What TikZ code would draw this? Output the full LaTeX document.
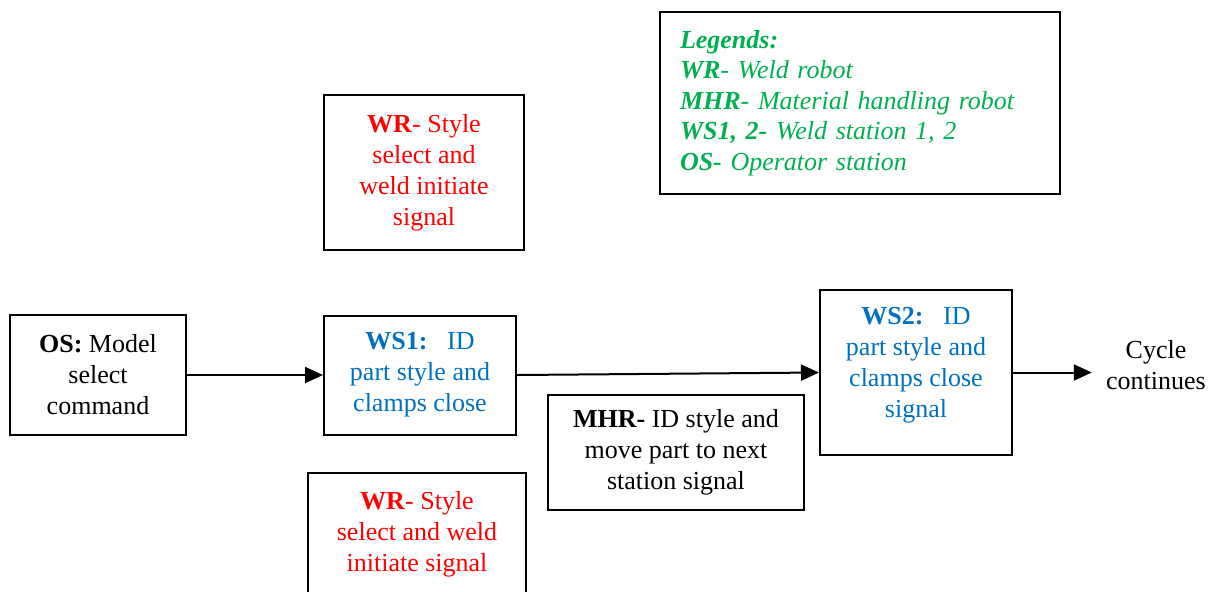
\documentclass[tikz,border=0pt]{standalone}
\usepackage{fontspec}
\setmainfont{Liberation Serif}
\usepackage{xcolor}
\usetikzlibrary{arrows.meta}
\definecolor{wrred}{HTML}{FF0000}
\definecolor{wsblue}{HTML}{0070C0}
\definecolor{lgreen}{HTML}{00B050}
\tikzset{
  blk/.style={draw=black, line width=1pt, inner sep=0pt, align=center,
    font=\fontsize{13}{15.5}\selectfont},
  txt/.style={inner sep=0pt, align=center, font=\fontsize{13}{15.5}\selectfont},
  flow/.style={-{Triangle[length=9pt,width=8pt]}, line width=1pt}
}
\begin{document}
\begin{tikzpicture}[x=0.5pt,y=-0.5pt]
  \useasboundingbox (0,0) rectangle (1212,591);
  \clip (0,0) rectangle (1212,591);

  % legend
  \node[blk, text=lgreen, font=\fontsize{13}{15.2}\selectfont\itshape, align=left,
    inner xsep=10pt, text width=180pt, minimum height=91pt] (legend) at (860,103)
    {\textbf{Legends:}\\
     \textbf{WR}- Weld robot\\
     \textbf{MHR}- Material handling robot\\
     \textbf{WS1, 2-} Weld station 1, 2\\
     \textbf{OS-} Operator station};

  % main flow
  \node[blk, minimum width=88pt, minimum height=60pt] (os) at (98,375)
    {\textbf{OS:} Model\\select\\command};
  \node[blk, text=wsblue, minimum width=96pt, minimum height=59.5pt] (ws1) at (420,375)
    {\textbf{WS1:}\ \ \ ID\\part style and\\clamps close};
  \node[blk, minimum width=96pt, minimum height=82.5pt] (ws2) at (916,372.5) {};
  \node[txt, text=wsblue] (ws2txt) at ([yshift=3.75pt]ws2.center)
    {\textbf{WS2:}\ \ \ ID\\part style and\\clamps close\\signal};
  \node[txt, inner xsep=7pt] (cycle) at (1156,365) {Cycle\\continues};

  % robot signals
  \node[blk, text=wrred, minimum width=100pt, minimum height=77.5pt] (wrtop) at (424,172.5)
    {\textbf{WR}- Style\\select and\\weld initiate\\signal};
  \node[blk, text=wrred, minimum width=109pt, minimum height=61pt] (wrbot) at (417,534)
    {\textbf{WR}- Style\\select and weld\\initiate signal};
  \node[blk, minimum width=128pt, minimum height=57.5pt] (mhr) at (676,452.5)
    {\textbf{MHR-} ID style and\\move part to next\\station signal};

  \draw[flow] (os) -- (ws1);
  \draw[flow] (ws1.east) -- (ws2.west);
  \draw[flow] (ws2.east) -- (ws2.east -| cycle.west);
\end{tikzpicture}
\end{document}
